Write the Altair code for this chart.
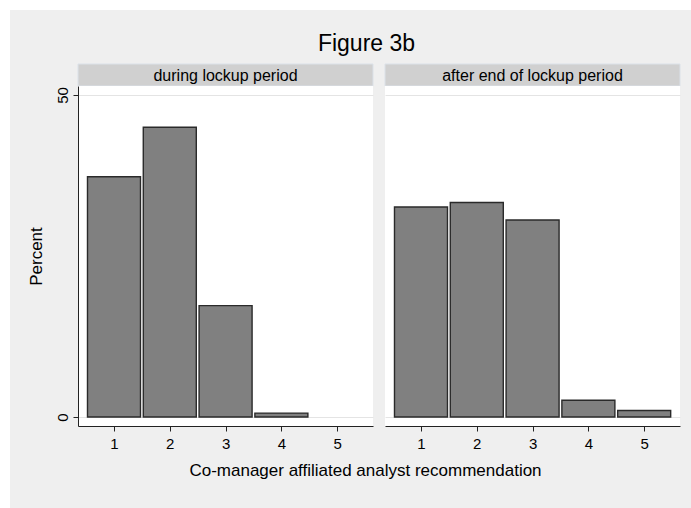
import altair as alt
import pandas as pd

# ---- data ----
recs = [1, 2, 3, 4, 5]
pct_during = [37.3, 45.0, 17.3, 0.6, 0.0]
pct_after = [32.6, 33.3, 30.6, 2.6, 1.0]
panel_labels = ["during lockup period", "after end of lockup period"]
y_ticks = [0, 50]
x_ticks = [1, 2, 3, 4, 5]
title_text = "Figure 3b"
x_title = "Co-manager affiliated analyst recommendation"
y_title = "Percent"

FONT = "Liberation Sans"
PW, PH = 295, 340        # panel size
SH = 22                  # strip height
GAP = 12
BG = "#efefef"

xscale = alt.Scale(domain=[0.355, 5.642], nice=False, zero=False)
yscale = alt.Scale(domain=[-1.4, 51.4], nice=False, zero=False)


def bars_panel(values, first):
    df = pd.DataFrame({"rec": recs, "pct": values})
    base = alt.Chart(df).transform_filter("datum.pct > 0").transform_calculate(
        lo="datum.rec - 0.475", hi="datum.rec + 0.475", base="0"
    )
    common_x = dict(values=x_ticks, labelAngle=0, labelFontSize=15, labelFont=FONT,
                    labelColor="black", tickSize=5, tickColor="#222", domainColor="#222",
                    labelPadding=5, grid=False, format="d")
    if first:
        yaxis = alt.Axis(values=y_ticks, labelAngle=-90, labelAlign="center",
                         labelBaseline="alphabetic", labelPadding=6, labelFontSize=15,
                         labelFont=FONT, labelColor="black", tickSize=5, tickColor="#222",
                         domainColor="#222", grid=True, gridColor="#e4e4e4",
                         title=y_title, titleFont=FONT, titleFontSize=17,
                         titleFontWeight="normal", titleColor="black", titleAngle=-90,
                         titleX=-37, titleY=PH / 2, titleBaseline="alphabetic",
                         titleAlign="center")
        xaxis = alt.Axis(title=x_title, titleFont=FONT, titleFontSize=17,
                         titleFontWeight="normal", titleColor="black",
                         titleX=287, titleY=49, titleBaseline="alphabetic",
                         titleAlign="center", **common_x)
    else:
        yaxis = alt.Axis(values=y_ticks, labels=False, ticks=False, domain=False,
                         grid=True, gridColor="#e4e4e4", title=None)
        xaxis = alt.Axis(title=None, **common_x)
    return base.mark_bar(fill="#808080", stroke="#2a2a2a", strokeWidth=1.4).encode(
        x=alt.X("lo:Q", scale=xscale, axis=xaxis),
        x2="hi:Q",
        y=alt.Y("pct:Q", scale=yscale, axis=yaxis),
        y2="base:Q",
    ).properties(width=PW, height=PH)


def strip_panel(label, first):
    strip_df = pd.DataFrame({"label": [label]})
    layers = []
    if first:
        # light grey page background behind the whole figure
        layers.append(alt.Chart(strip_df).mark_rect(color=BG, clip=False).encode(
            x=alt.value(-68), x2=alt.value(613), y=alt.value(-54), y2=alt.value(444)))
    layers.append(alt.Chart(strip_df).mark_rect(fill="#d0d0d0", stroke="#dbe1e8",
                                                 strokeWidth=1).encode(
        x=alt.value(0), x2=alt.value(PW), y=alt.value(0), y2=alt.value(SH)))
    layers.append(alt.Chart(strip_df).mark_text(font=FONT, fontSize=16, color="black",
                                                 baseline="middle", align="center").encode(
        x=alt.value(PW / 2), y=alt.value(SH / 2 + 1), text="label:N"))
    if first:
        title_df = pd.DataFrame({"t": [title_text]})
        layers.append(alt.Chart(title_df).mark_text(
            font=FONT, fontSize=23, color="black", baseline="alphabetic",
            align="center", clip=False).encode(
            x=alt.value(PW / 2 + 141), y=alt.value(-13), text="t:N"))
    return alt.layer(*layers).properties(width=PW, height=SH)


chart = alt.concat(
    strip_panel(panel_labels[0], True),
    strip_panel(panel_labels[1], False),
    bars_panel(pct_during, True),
    bars_panel(pct_after, False),
    columns=2,
    spacing=alt.RowColnumber(row=0, column=GAP),
    bounds="flush",
    align="each",
).properties(
    padding={"left": 10, "top": 10, "right": 0, "bottom": 0},
    background="white",
).configure_view(stroke=None, fill="white")

chart.save("out.html", embed_options={"renderer": "svg", "actions": False})
